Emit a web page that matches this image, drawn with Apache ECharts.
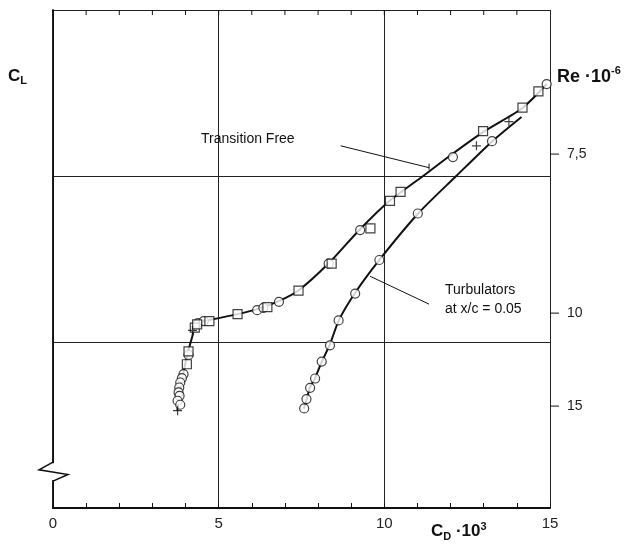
<!DOCTYPE html>
<html><head><meta charset="utf-8">
<script src="https://cdn.jsdelivr.net/npm/echarts@6/dist/echarts.min.js"></script>
<style>html,body{margin:0;padding:0;background:#fff}#c{width:637px;height:552px}</style>
</head><body><div id="c"></div>
<script>
// ---- data (x = C_D*10^3, y = C_L) ----
const tfLine = [[3.75,0.293],[3.93,0.404],[4.08,0.473],[4.20,0.515],[4.29,0.548],[4.44,0.561],[4.71,0.566],[5.57,0.584],[6.17,0.599],[6.81,0.623],[7.42,0.656],[8.32,0.737],[9.26,0.839],[10.17,0.926],[11.17,1.0],[12.02,1.064],[12.99,1.133],[14.17,1.205],[14.90,1.277]];
const tbLine = [[7.57,0.299],[7.66,0.329],[7.75,0.362],[7.90,0.389],[8.11,0.440],[8.35,0.491],[8.63,0.566],[9.11,0.647],[9.84,0.746],[11.02,0.887],[12.17,1.0],[13.26,1.105],[14.14,1.178]];
const tfCircles = [[3.94,0.403],[3.89,0.391],[3.84,0.378],[3.81,0.363],[3.79,0.348],[3.82,0.338],[3.76,0.323],[3.84,0.311],[4.09,0.461],[4.38,0.557],[4.55,0.563],[6.16,0.596],[6.35,0.603],[6.82,0.621],[8.32,0.736],[9.27,0.837],[12.07,1.057],[14.90,1.277]];
const tfSquares = [[4.09,0.472],[4.04,0.433],[4.28,0.543],[4.35,0.553],[4.72,0.563],[5.57,0.584],[6.47,0.605],[7.41,0.655],[8.41,0.736],[9.58,0.842],[10.17,0.925],[10.49,0.952],[12.98,1.135],[14.17,1.206],[14.65,1.255]];
const tbCircles = [[7.58,0.300],[7.65,0.328],[7.76,0.362],[7.91,0.390],[8.11,0.441],[8.36,0.490],[8.62,0.565],[9.12,0.646],[9.85,0.747],[11.01,0.887],[13.25,1.105]];
const plusMarks = [[3.76,0.293],[4.21,0.535],[12.78,1.091],[13.76,1.164]];
const xTicks = [0,5,10,15];
const reTickCL = [1.066,0.587,0.307];
const reTickLabels = ['7,5','10','15'];

const FONT = '"Liberation Sans", Arial, sans-serif';
const chart = echarts.init(document.getElementById('c'), null, {renderer:'canvas'});
function markerSeries(data, symbol, size){
  return {type:'scatter', data, symbol, symbolSize:size, z:5,
    itemStyle:{color:'#fff', borderColor:'#111', borderWidth:1.2}, silent:true};
}
const reMap = {}; reTickCL.forEach((v,i)=>reMap[v]=reTickLabels[i]);
const option = {
  animation:false,
  backgroundColor:'#fff',
  grid:{left:53, right:87, top:10, bottom:44},
  xAxis:[{
    type:'value', min:xTicks[0], max:xTicks[xTicks.length-1], interval:5, position:'bottom',
    axisLine:{show:true, lineStyle:{color:'#111', width:2}},
    axisTick:{show:true, inside:true, length:5, lineStyle:{color:'#111'}},
    minorTick:{show:true, splitNumber:5, length:5, lineStyle:{color:'#111'}},
    axisLabel:{color:'#222', fontSize:15, fontFamily:FONT, margin:8},
    splitLine:{show:true, lineStyle:{color:'#222', width:1}}
  },{
    type:'value', min:xTicks[0], max:xTicks[xTicks.length-1], interval:5, position:'top',
    axisLine:{show:true, lineStyle:{color:'#111', width:1}},
    axisTick:{show:false}, axisLabel:{show:false}, splitLine:{show:false}
  }],
  yAxis:[{
    type:'value', min:0, max:1.5, interval:0.5, position:'left',
    axisLine:{show:true, lineStyle:{color:'#111', width:1.5}},
    axisTick:{show:false}, axisLabel:{show:false},
    splitLine:{show:true, lineStyle:{color:'#222', width:1}}
  },{
    type:'value', min:0, max:1.5, position:'right',
    axisLine:{show:true, lineStyle:{color:'#111', width:1.5}},
    axisTick:{show:false},
    axisLabel:{show:true, customValues:reTickCL, color:'#222', fontSize:14, fontFamily:FONT, margin:17,
      formatter:v=>reMap[v]!==undefined?reMap[v]:''},
    splitLine:{show:false}
  }],
  series:[
    {type:'line', data:tfLine, smooth:0.25, symbol:'none', lineStyle:{color:'#111', width:2}, z:3},
    {type:'line', data:tbLine, smooth:0.25, symbol:'none', lineStyle:{color:'#111', width:2}, z:3},
    markerSeries(tfCircles,'circle',9),
    markerSeries(tbCircles,'circle',9),
    markerSeries(tfSquares,'rect',9),
    {type:'scatter', data:plusMarks, symbol:'path://M5,0L5,10M0,5L10,5', symbolSize:9, z:6,
      itemStyle:{color:'none', borderColor:'#111', borderWidth:1.2}, silent:true}
  ]
};
chart.setOption(option);

// annotations
const P = (x,y)=>chart.convertToPixel({xAxisIndex:0,yAxisIndex:0},[x,y]);
const tf0 = P(8.68,1.091), tf1 = P(11.35,1.025);
const tb0 = P(9.57,0.698), tb1 = P(11.35,0.614);
const ax0 = P(0,0.138), ax1 = P(0,0.081), axm1 = P(0,0.115), axm2 = P(0,0.101);
const g = [
  {type:'line', shape:{x1:tf0[0],y1:tf0[1],x2:tf1[0],y2:tf1[1]}, style:{stroke:'#111', lineWidth:1}},
  {type:'line', shape:{x1:tf1[0],y1:tf1[1]-4,x2:tf1[0],y2:tf1[1]+2}, style:{stroke:'#111', lineWidth:1}},
  {type:'line', shape:{x1:tb0[0],y1:tb0[1],x2:tb1[0],y2:tb1[1]}, style:{stroke:'#111', lineWidth:1}},
  // axis break
  {type:'rect', shape:{x:ax0[0]-2,y:ax0[1]+1,width:4,height:ax1[1]-ax0[1]-2}, style:{fill:'#fff'}, z:10},
  {type:'polyline', shape:{points:[[ax0[0],ax0[1]],[ax0[0]-14,axm1[1]],[ax0[0]+15,axm2[1]],[ax1[0],ax1[1]]]}, style:{stroke:'#111', lineWidth:1.5, fill:null}, z:11},
  {type:'text', left:201, top:132, style:{text:'Transition Free', fontSize:14, fontFamily:FONT, fill:'#111'}},
  {type:'text', left:445, top:281, style:{text:'Turbulators\nat x/c = 0.05', fontSize:14, lineHeight:19, fontFamily:FONT, fill:'#111'}},
  {type:'text', left:8, top:68, style:{text:'{a|C}{b|L}', rich:{a:{fontSize:17,fontWeight:'bold',fontFamily:FONT,fill:'#111'}, b:{fontSize:11,fontWeight:'bold',fontFamily:FONT,fill:'#111',padding:[8,0,0,0]}}}},
  {type:'text', left:557, top:65, style:{text:'{a|Re ·10}{b|-6}', rich:{a:{fontSize:18,fontWeight:'bold',fontFamily:FONT,fill:'#111',padding:[6,0,0,0]}, b:{fontSize:11,fontWeight:'bold',fontFamily:FONT,fill:'#111',padding:[0,0,8,0]}}}},
  {type:'text', left:431, top:521, style:{text:'{a|C}{b|D}{a| ·10}{c|3}', rich:{a:{fontSize:17,fontWeight:'bold',fontFamily:FONT,fill:'#111'}, b:{fontSize:11,fontWeight:'bold',fontFamily:FONT,fill:'#111',padding:[10,0,0,0]}, c:{fontSize:11,fontWeight:'bold',fontFamily:FONT,fill:'#111',padding:[0,0,10,0]}}}}
];
// Re ticks on right axis
reTickCL.forEach(v=>{
  const p = P(xTicks[xTicks.length-1], v);
  g.push({type:'line', shape:{x1:p[0],y1:p[1],x2:p[0]+9,y2:p[1]}, style:{stroke:'#111', lineWidth:1}});
});
// inward ticks along top frame, every unit
for (let x = xTicks[0] + 1; x < xTicks[xTicks.length-1]; x++) {
  const p = P(x, 1.5);
  g.push({type:'line', shape:{x1:p[0],y1:p[1],x2:p[0],y2:p[1]+5}, style:{stroke:'#111', lineWidth:1}});
}
chart.setOption({graphic:g});
</script></body></html>
